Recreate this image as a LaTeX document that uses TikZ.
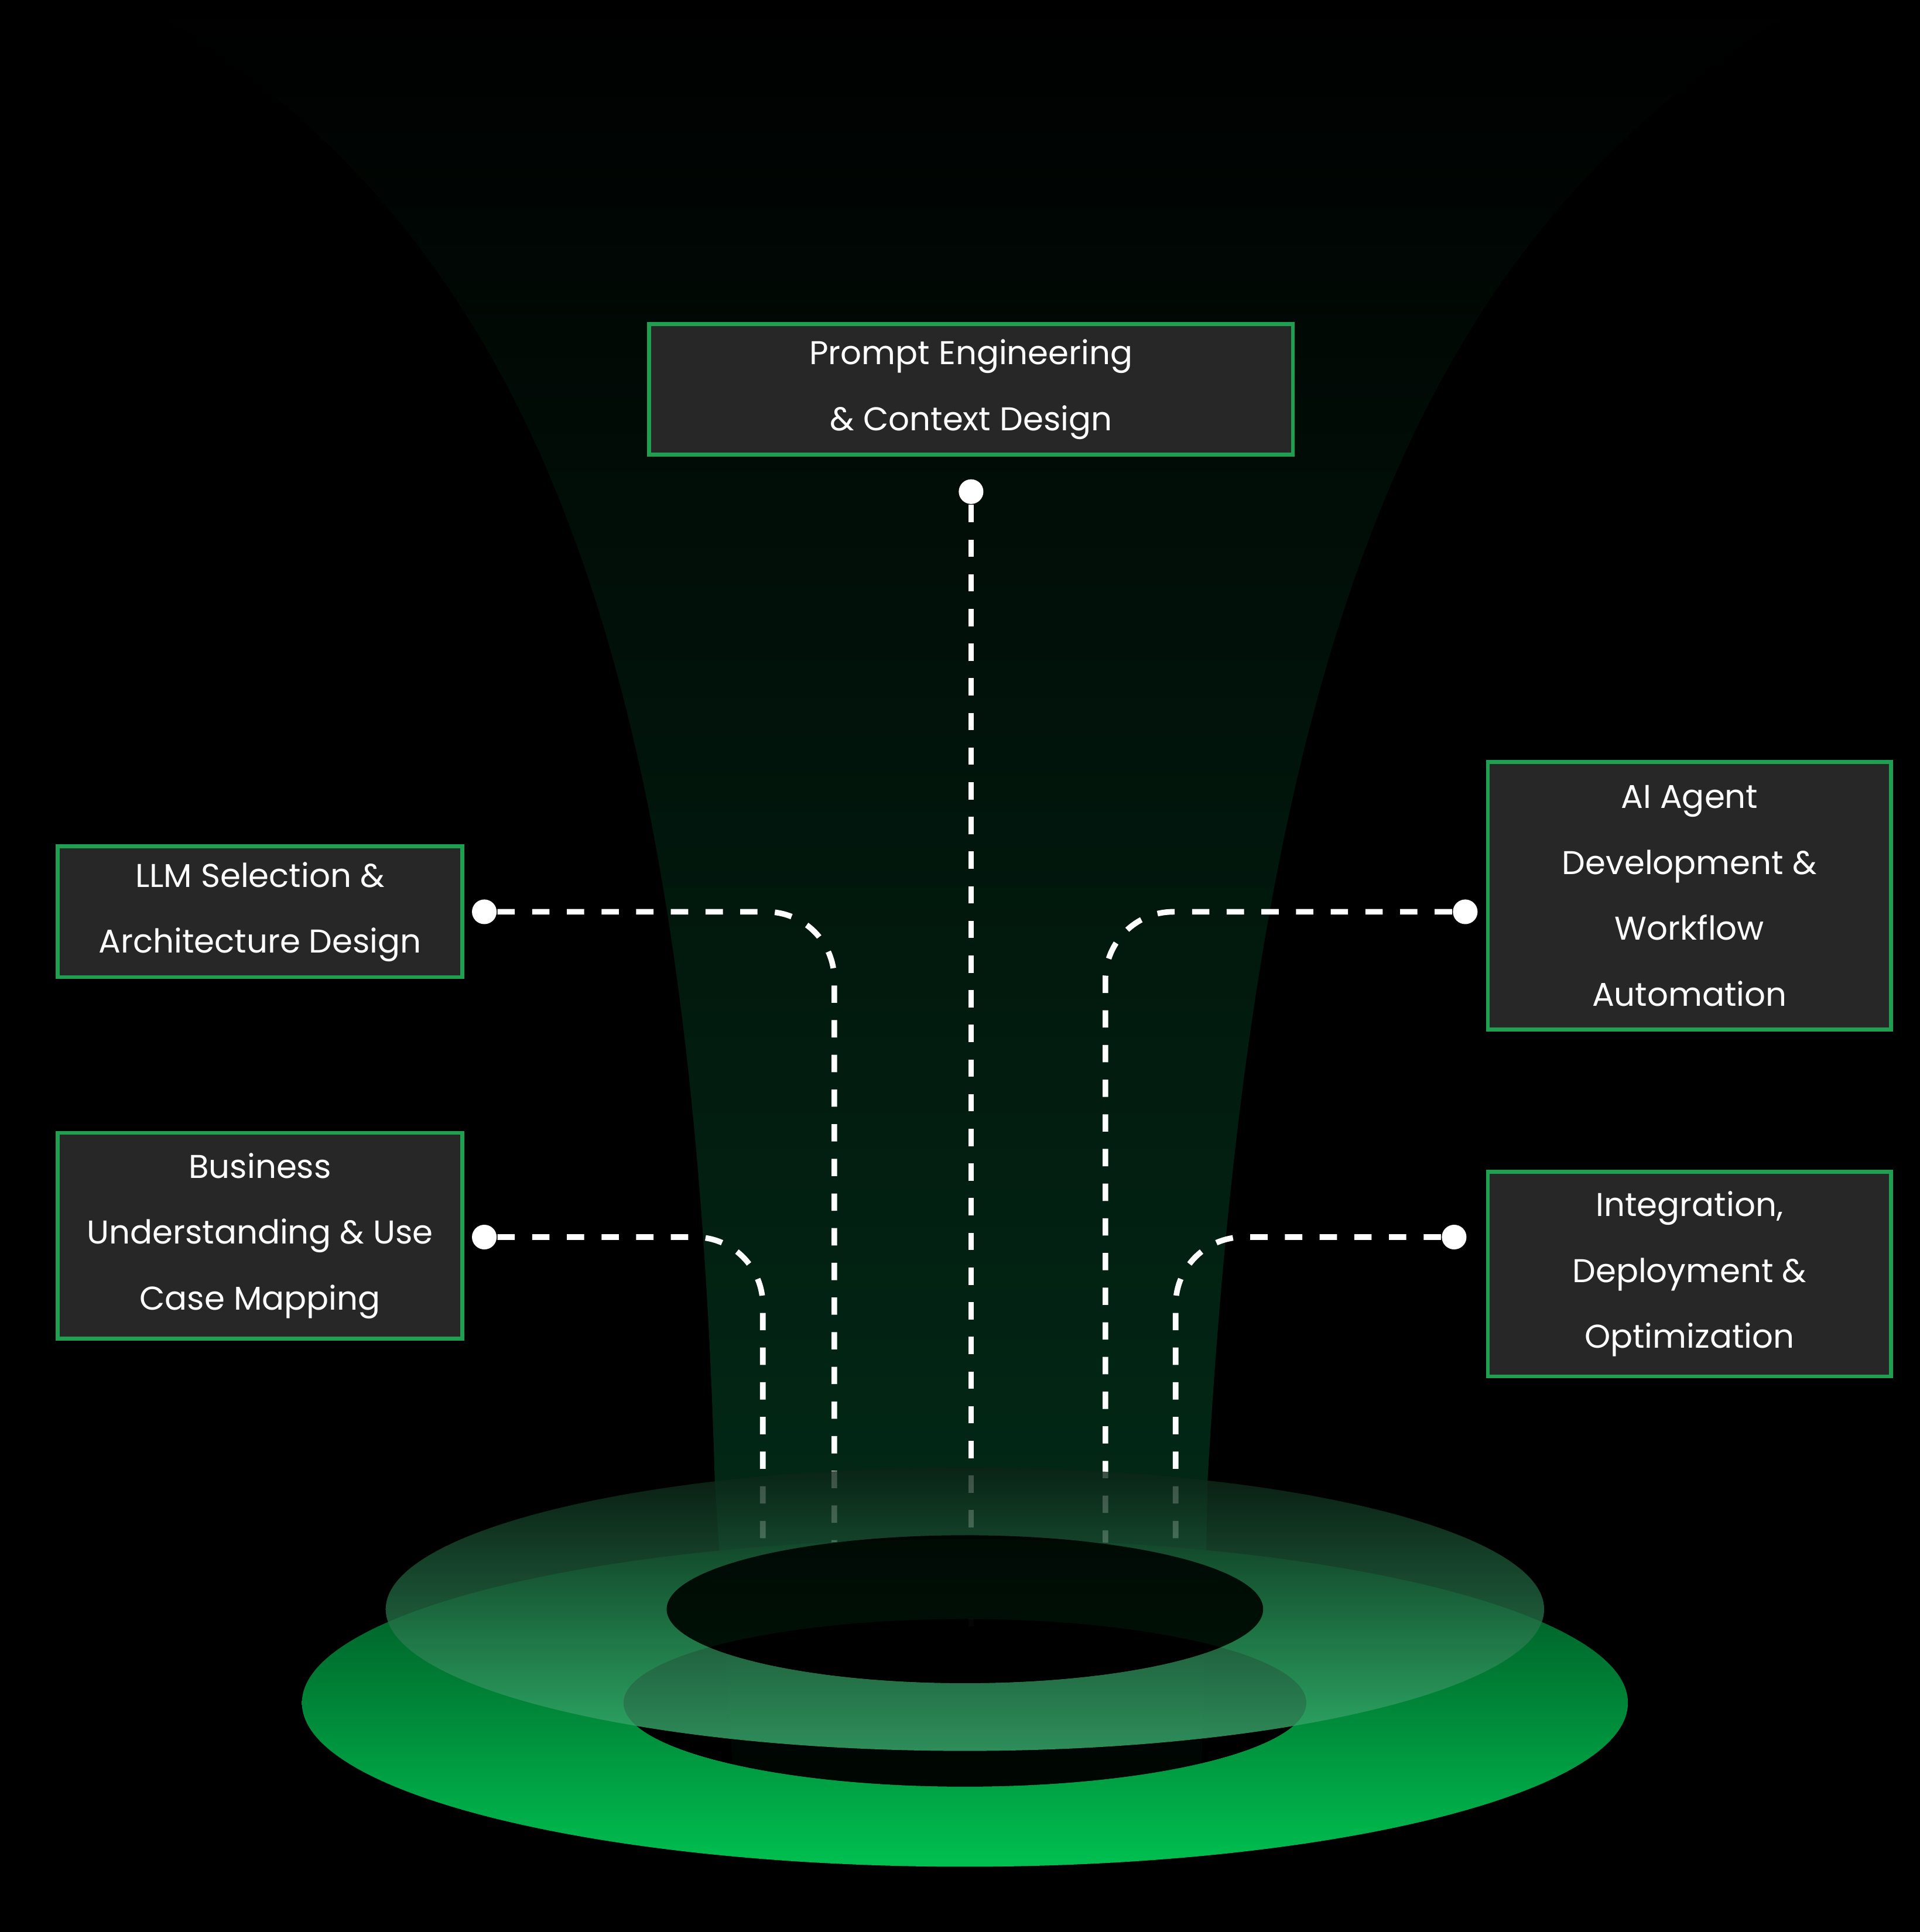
\documentclass[tikz,border=0pt]{standalone}
\usepackage{fontspec}
\setmainfont{Poppins}
\usetikzlibrary{positioning}
\definecolor{boxfill}{HTML}{272727}
\definecolor{boxline}{HTML}{1FA050}
\definecolor{funnel}{HTML}{03301A}
\definecolor{ringlow}{HTML}{00C050}
\definecolor{ringtop}{HTML}{004A20}
\definecolor{ringup}{HTML}{3AB070}
\tikzset{
  skill/.style={draw=boxline,line width=0.9pt,fill=boxfill,text=white,align=center,
    inner sep=0pt,font=\fontsize{7.6}{15.2}\selectfont},
  dot/.style={circle,fill=white,inner sep=0pt,minimum size=0.2cm},
  link/.style={white,line width=1.3pt,dash pattern=on 4pt off 4pt,rounded corners=0.55cm}
}
\begin{document}
\begin{tikzpicture}[x=0.01cm,y=-0.01cm]
\fill[black] (0,0) rectangle (1558,1568);
\useasboundingbox (0,0) rectangle (1558,1568);
% funnel
\shade[top color=black,bottom color=funnel]
  (110,0) .. controls (420,180) and (560,500) .. (580,1200) -- (595,1440) -- (790,1470)
  -- (975,1440) -- (980,1200) .. controls (1020,500) and (1160,180) .. (1470,0) -- cycle;
% connectors
\node[dot] (pd) at (788,399) {};
\node[dot] (ld) at (393,740) {};
\node[dot] (bd) at (393,1004) {};
\node[dot] (ad) at (1189,740) {};
\node[dot] (id) at (1180,1004) {};
\coordinate (pe) at (788,1320);
\coordinate (le) at (677,1315);
\coordinate (be) at (619,1315);
\coordinate (ae) at (897,1315);
\coordinate (ie) at (954,1315);
\draw[link] (pd) -- (pe);
\draw[link] (ld) -| (le);
\draw[link] (bd) -| (be);
\draw[link] (ad) -| (ae);
\draw[link] (id) -| (ie);
% base rings
\shade[top color=ringtop,bottom color=ringlow,even odd rule]
  (783,1382) ellipse (538 and 133) (783,1382) ellipse (277 and 68);
\fill[black,opacity=0.85] (783,1382) ellipse (277 and 68);
\shade[top color=ringup!20!black,bottom color=ringup,opacity=0.8,even odd rule]
  (783,1306) ellipse (470 and 115) (783,1306) ellipse (242 and 60);
\fill[black,opacity=0.85] (783,1306) ellipse (242 and 60);
% boxes
\node[skill,minimum width=5.22cm,minimum height=1.06cm] (prompt) at (788,316)
  {Prompt Engineering\\\& Context Design};
\node[skill,minimum width=3.28cm,minimum height=1.06cm] (llm) at (211,740)
  {LLM Selection \&\\Architecture Design};
\node[skill,minimum width=3.28cm,minimum height=1.67cm] (business) at (211,1003)
  {Business\\Understanding \& Use\\Case Mapping};
\node[skill,minimum width=3.27cm,minimum height=2.17cm] (agent) at (1371,727)
  {AI Agent\\Development \&\\Workflow\\Automation};
\node[skill,minimum width=3.27cm,minimum height=1.66cm] (integration) at (1371,1034)
  {Integration,\\Deployment \&\\Optimization};
\end{tikzpicture}
\end{document}
